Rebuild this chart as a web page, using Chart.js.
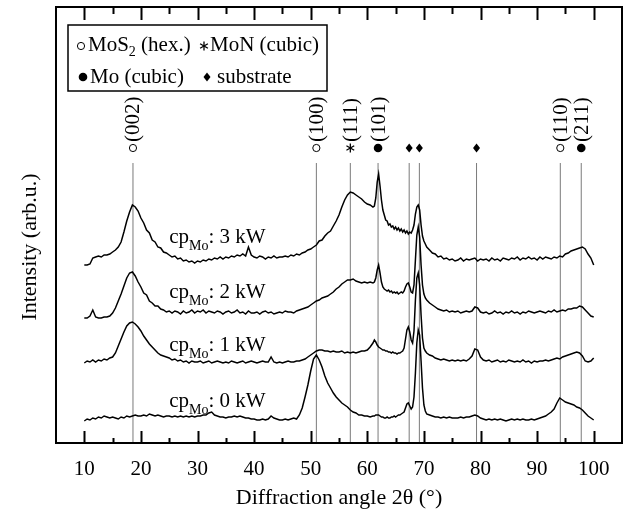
<!DOCTYPE html>
<html>
<head>
<meta charset="utf-8">
<script src="https://cdn.jsdelivr.net/npm/chart.js@4.4.1/dist/chart.umd.min.js"></script>
<style>
  html, body { margin: 0; padding: 0; background: #fff; }
</style>
</head>
<body>
<canvas id="xrd" width="625" height="509"></canvas>
<script>
// ── Data (2θ in degrees, intensity in arb. units, curves already offset) ──
const angle = [
  10,10.5,11,11.5,12,12.5,13,13.5,14,14.5,
  15,15.5,16,16.5,17,17.5,18,18.5,19,19.5,
  20,20.5,21,21.5,22,22.5,23,23.5,24,24.5,
  25,25.5,26,26.5,27,27.5,28,28.5,29,29.5,
  30,30.5,31,31.5,32,32.5,33,33.5,34,34.5,
  35,35.5,36,36.5,37,37.5,38,38.5,39,39.5,
  40,40.5,41,41.5,42,42.5,43,43.5,44,44.5,
  45,45.5,46,46.5,47,47.5,48,48.5,49,49.5,
  50,50.5,51,51.5,52,52.5,53,53.5,54,54.5,
  55,55.5,56,56.5,57,57.5,58,58.5,59,59.5,
  60,60.5,61,
  61.25,61.5,61.75,62,62.25,62.5,62.75,63,63.25,63.5,
  63.75,64,64.25,64.5,64.75,65,65.25,65.5,65.75,66,
  66.25,66.5,66.75,67,67.25,67.5,67.75,68,68.25,68.5,
  68.75,69,69.25,69.5,69.75,70,70.25,70.5,
  71,71.5,72,72.5,73,73.5,74,74.5,75,75.5,
  76,76.5,77,77.5,78,78.5,79,79.5,80,80.5,
  81,81.5,82,82.5,83,83.5,84,84.5,85,85.5,
  86,86.5,87,87.5,88,88.5,89,89.5,90,90.5,
  91,91.5,92,92.5,93,93.5,94,94.5,95,95.5,
  96,96.5,97,97.5,98,98.5,99,99.5,100
];

const cp3kW = [
  178,178,179,185,186,187,186,188,188,189,
  191,193,196,201,211,222,231,238,236,232,
  225,220,213,210,203,201,196,195,191,190,
  188,186,187,184,185,182,183,181,182,180,
  182,181,183,182,184,183,185,184,186,184,
  186,185,187,186,188,187,189,187,196,188,
  186,185,187,186,184,186,185,187,185,186,
  186,187,186,188,187,189,188,190,191,193,
  194,196,198,202,203,207,210,212,217,222,
  228,236,243,248,251,250,248,246,244,241,
  239,238,236,
  237,245,261,269,257,243,233,228,223,222,
  218,219,216,217,214,216,213,215,212,214,
  211,213,210,212,209,211,210,213,218,229,
  236,238,233,218,207,202,199,196,
  193,190,189,186,187,184,185,183,184,182,
  183,185,182,184,183,184,185,182,184,183,
  184,182,185,183,184,182,185,184,183,185,
  184,186,183,185,184,186,184,185,183,186,
  184,186,185,184,186,185,187,186,189,190,
  192,193,194,195,196,194,189,185,178
];

const cp2kW = [
  125,125,127,133,126,125,125,126,126,127,
  130,135,142,149,157,165,170,171,167,161,
  156,150,148,142,140,137,137,134,133,131,
  132,130,132,131,129,132,130,131,133,130,
  132,131,133,130,132,131,130,132,131,129,
  131,132,130,131,133,130,131,129,132,130,
  130,131,129,131,132,130,131,129,130,131,
  130,132,131,131,130,132,133,134,135,136,
  138,140,142,143,145,146,147,149,151,154,
  156,159,161,163,163,164,162,161,160,161,
  160,161,160,
  161,165,173,178,170,161,156,154,153,152,
  153,151,152,150,151,150,151,149,150,151,
  150,152,156,159,160,156,151,150,158,183,
  208,216,206,178,158,149,145,143,
  140,138,136,134,133,132,133,131,132,131,
  132,130,131,132,131,132,136,135,131,130,
  131,129,130,132,130,131,129,131,130,132,
  130,131,129,131,130,132,131,130,131,132,
  131,130,132,131,133,131,132,133,132,134,
  134,135,135,137,136,133,130,127,126
];

const cp1kW = [
  80,82,81,83,81,83,82,84,83,85,
  86,90,97,104,111,117,120,121,119,116,
  112,107,103,99,96,93,90,88,87,86,
  85,83,84,82,83,81,82,80,82,81,
  81,82,80,81,82,80,81,82,81,80,
  81,80,82,81,80,81,82,80,81,82,
  81,80,81,82,81,81,86,81,80,81,
  80,81,82,81,81,82,82,83,84,86,
  88,90,92,93,93,92,92,91,92,91,
  91,92,90,91,90,91,90,91,92,92,
  93,96,100,
  103,101,98,96,95,94,93,93,92,92,
  91,91,90,91,90,90,89,90,90,91,
  92,95,104,113,116,111,103,100,112,143,
  165,170,158,128,105,95,92,90,
  88,87,85,84,83,84,83,82,83,82,
  83,82,83,82,84,87,94,93,86,83,
  82,83,81,82,83,81,82,81,83,82,
  81,82,81,83,81,82,80,82,81,82,
  82,83,82,83,84,85,84,86,87,88,
  89,90,91,90,87,82,81,82,85
];

const cp0kW = [
  22,24,23,25,24,26,25,27,26,25,
  26,25,24,26,25,27,26,27,28,27,
  27,28,27,29,28,27,28,27,26,27,
  27,26,27,26,27,26,27,26,27,26,
  27,27,28,28,30,31,28,27,26,26,
  25,26,26,27,26,27,26,25,25,24,
  24,23,23,24,23,24,27,25,24,23,
  23,24,23,24,25,24,28,35,46,58,
  72,84,88,83,76,67,60,55,50,46,
  43,40,38,36,33,31,30,28,28,27,
  27,26,27,
  27,28,28,28,27,26,26,25,25,26,
  25,25,26,26,27,26,27,28,28,29,
  30,31,35,39,40,37,34,36,46,70,
  100,113,108,82,55,38,32,29,
  28,27,26,26,25,26,25,26,25,25,
  25,26,25,26,26,27,28,27,25,24,
  23,24,23,24,23,24,23,22,23,24,
  23,24,23,24,23,23,24,23,24,25,
  26,27,29,31,34,40,45,43,41,40,
  39,38,36,35,33,30,27,25,23
];

const curvePowers = ['3 kW', '2 kW', '1 kW', '0 kW'];

// reference peak positions, phase and Miller indices
const peakPos   = [18.6, 51.0, 57.0, 61.9, 67.4, 69.2, 79.3, 94.1, 97.8];
const peakPhase = ['MoS2', 'MoS2', 'MoN', 'Mo', 'sub', 'sub', 'sub', 'MoS2', 'Mo'];
const peakHkl   = ['(002)', '(100)', '(111)', '(101)', '', '', '', '(110)', '(211)'];

const xTicks      = [10, 20, 30, 40, 50, 60, 70, 80, 90, 100];
const xMinorTicks = [15, 25, 35, 45, 55, 65, 75, 85, 95];

// ── Layout bits (not data) ────────────────────────────────────
const SERIF      = "'Liberation Serif', 'DejaVu Serif', serif";
const REF_TOP    = 280;   // top end of the grey reference lines
const MARK_LEVEL = 295;   // symbol row above the lines
const HKL_LEVEL  = 301;   // bottom of the rotated (hkl) labels
const CP_X       = 25;    // where the cp labels start
const CP_LEVEL   = [200, 145, 92, 36];

// ── Symbols ───────────────────────────────────────────────────
function drawSymbol(ctx, kind, px, py) {
  ctx.save();
  ctx.fillStyle = '#000';
  ctx.strokeStyle = '#000';
  ctx.lineWidth = 1;
  if (kind === 'MoS2') {
    ctx.beginPath(); ctx.arc(px, py, 3.6, 0, Math.PI * 2); ctx.stroke();
  } else if (kind === 'Mo') {
    ctx.beginPath(); ctx.arc(px, py, 4.3, 0, Math.PI * 2); ctx.fill();
  } else if (kind === 'sub') {
    ctx.beginPath();
    ctx.moveTo(px, py - 4.5); ctx.lineTo(px + 3.5, py);
    ctx.lineTo(px, py + 4.5); ctx.lineTo(px - 3.5, py);
    ctx.closePath(); ctx.fill();
  } else if (kind === 'MoN') {
    ctx.lineWidth = 1.3;
    [90, 30, 150].forEach(deg => {
      const r = deg * Math.PI / 180, dx = Math.cos(r) * 4.5, dy = Math.sin(r) * 4.5;
      ctx.beginPath(); ctx.moveTo(px - dx, py - dy); ctx.lineTo(px + dx, py + dy); ctx.stroke();
    });
  }
  ctx.restore();
}

// text with a subscript in the middle: main, sub, rest
function subText(ctx, px, py, main, sub, rest, size, subSize, drop) {
  ctx.font = size + 'px ' + SERIF;
  ctx.fillText(main, px, py);
  let w = ctx.measureText(main).width;
  ctx.font = subSize + 'px ' + SERIF;
  ctx.fillText(sub, px + w, py + drop);
  w += ctx.measureText(sub).width;
  ctx.font = size + 'px ' + SERIF;
  ctx.fillText(rest, px + w, py);
}

// ── Plugin: frame, inward ticks, peak marks, labels, legend ──
const decor = {
  id: 'decor',
  afterDatasetsDraw(chart) {
    const { ctx, chartArea: a, scales: { x, y } } = chart;
    ctx.save();
    ctx.strokeStyle = '#000';
    ctx.fillStyle = '#000';

    // frame
    ctx.lineWidth = 2;
    ctx.strokeRect(a.left, a.top, a.right - a.left, a.bottom - a.top);

    // ticks, pointing inward on bottom and top
    const tick = (v, lb, lt) => {
      const px = Math.round(x.getPixelForValue(v)) + 0.5;
      ctx.beginPath();
      ctx.moveTo(px, a.bottom); ctx.lineTo(px, a.bottom - lb);
      ctx.moveTo(px, a.top);    ctx.lineTo(px, a.top + lt);
      ctx.stroke();
    };
    xTicks.forEach(v => tick(v, 12, 13));
    xMinorTicks.forEach(v => tick(v, 5, 7));

    // peak symbols + (hkl)
    peakPos.forEach((p, i) => {
      const px = x.getPixelForValue(p);
      drawSymbol(ctx, peakPhase[i], px, y.getPixelForValue(MARK_LEVEL));
      if (peakHkl[i]) {
        ctx.save();
        ctx.translate(px + 1, y.getPixelForValue(HKL_LEVEL));
        ctx.rotate(-Math.PI / 2);
        ctx.font = '21px ' + SERIF;
        ctx.textAlign = 'left';
        ctx.textBaseline = 'middle';
        ctx.fillText(peakHkl[i], 0, 0);
        ctx.restore();
      }
    });

    // cp_Mo labels
    ctx.textBaseline = 'alphabetic';
    ctx.textAlign = 'left';
    curvePowers.forEach((pw, i) => {
      subText(ctx, x.getPixelForValue(CP_X), y.getPixelForValue(CP_LEVEL[i]),
              'cp', 'Mo', ': ' + pw, 21, 14, 7);
    });

    // legend box
    const lx = a.left + 12, ly = a.top + 18;
    ctx.lineWidth = 1.5;
    ctx.strokeRect(lx, ly, 259, 66);
    drawSymbol(ctx, 'MoS2', lx + 13, ly + 21);
    subText(ctx, lx + 20, ly + 26, 'MoS', '2', ' (hex.)', 21, 14, 5);
    drawSymbol(ctx, 'MoN', lx + 136, ly + 21);
    ctx.font = '21px ' + SERIF;
    ctx.fillText('MoN (cubic)', lx + 142, ly + 26);
    drawSymbol(ctx, 'Mo', lx + 15, ly + 52);
    ctx.fillText('Mo (cubic)', lx + 22, ly + 58);
    drawSymbol(ctx, 'sub', lx + 139, ly + 52);
    ctx.fillText('substrate', lx + 149, ly + 58);

    // axis titles
    ctx.font = '22px ' + SERIF;
    ctx.textAlign = 'center';
    ctx.fillText('Diffraction angle 2\u03B8 (\u00B0)', (a.left + a.right) / 2, 504);
    ctx.save();
    ctx.translate(30, (a.top + a.bottom) / 2 + 22);
    ctx.rotate(-Math.PI / 2);
    ctx.textBaseline = 'middle';
    ctx.fillText('Intensity (arb.u.)', 0, 0);
    ctx.restore();

    ctx.restore();
  }
};

// ── Datasets ──────────────────────────────────────────────────
const datasets = [];
peakPos.forEach(p => {
  datasets.push({
    data: [{ x: p, y: 0 }, { x: p, y: REF_TOP }],
    borderColor: '#7a7a7a', borderWidth: 1, pointRadius: 0, order: 2
  });
});
[cp3kW, cp2kW, cp1kW, cp0kW].forEach(vals => {
  datasets.push({
    data: angle.map((a, i) => ({ x: a, y: vals[i] })),
    borderColor: '#000', borderWidth: 1.5, pointRadius: 0, tension: 0, order: 1
  });
});

new Chart(document.getElementById('xrd'), {
  type: 'line',
  data: { datasets },
  options: {
    responsive: false,
    animation: false,
    devicePixelRatio: 1,
    layout: { padding: { left: 56, right: 3, top: 7, bottom: 0 } },
    plugins: { legend: { display: false }, tooltip: { enabled: false } },
    scales: {
      x: {
        type: 'linear', min: 5, max: 105,
        afterBuildTicks: s => { s.ticks = xTicks.map(v => ({ value: v })); },
        afterFit: s => { s.height = 66; },
        grid: { display: false, drawTicks: false },
        border: { display: false },
        ticks: { font: { family: SERIF, size: 21 }, color: '#000', padding: 14, maxRotation: 0, autoSkip: false }
      },
      y: { display: false, min: 0, max: 436 }
    }
  },
  plugins: [decor]
});
</script>
</body>
</html>
